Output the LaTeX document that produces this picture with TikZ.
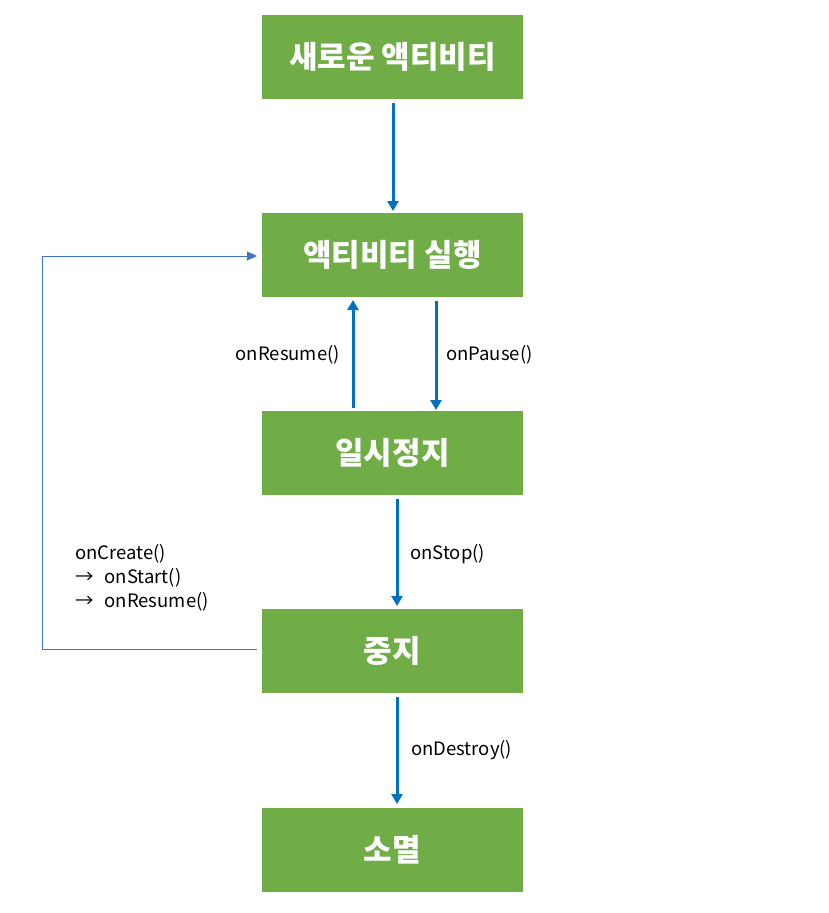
\documentclass[tikz,border=0pt]{standalone}
\usepackage{fontspec}
\setmainfont{Noto Sans CJK KR}
\usetikzlibrary{arrows.meta}
\definecolor{boxgreen}{HTML}{70AD47}
\definecolor{flowblue}{HTML}{0070C0}
\definecolor{loopblue}{HTML}{4472C4}
\tikzset{
	state/.style={fill=boxgreen, text=white, minimum width=261pt, minimum height=84pt, inner sep=0pt, font=\fontsize{31}{36}\selectfont\bfseries},
	flow/.style={flowblue, line width=3pt, -{Triangle[width=11pt,length=10pt]}},
	loop/.style={loopblue, line width=1pt, -{Triangle[width=9pt,length=10pt]}},
	call/.style={font=\fontsize{18.5}{24}\selectfont, inner sep=0pt}
}
\begin{document}
\begin{tikzpicture}[x=1pt,y=-1pt]
	\useasboundingbox (0,0) rectangle (828,913);
	\node [state] (new) at (392.5,57) {새로운 액티비티};
	\node [state] (run) at (392.5,255) {액티비티 실행};
	\node [state] (pause) at (392.5,452.5) {일시정지};
	\node [state] (stop) at (392.5,651) {중지};
	\node [state] (gone) at (392.5,850) {소멸};
	\coordinate (newout) at (393,103);
	\coordinate (runin) at (393,211);
	\coordinate (resumeout) at (353,408);
	\coordinate (resumein) at (353,300);
	\coordinate (pauseout) at (436,301);
	\coordinate (pausein) at (436,410);
	\coordinate (stopout) at (397,499);
	\coordinate (stopin) at (397,606);
	\coordinate (goneout) at (397,697);
	\coordinate (gonein) at (397,804);
	\coordinate (loopstart) at (257,649);
	\coordinate (loopend) at (257,256);
	\draw [flow] (newout) -- (runin);
	\draw [flow] (resumeout) -- (resumein);
	\draw [flow] (pauseout) -- (pausein);
	\draw [flow] (stopout) -- (stopin);
	\draw [flow] (goneout) -- (gonein);
	\draw [loop] (loopstart) -- (42,649) -- (42,256) -- (loopend);
	\node [call, anchor=east] (resumecall) at (340,355) {onResume()};
	\node [call, anchor=west] (pausecall) at (446,355) {onPause()};
	\node [call, anchor=west] (stopcall) at (410,554) {onStop()};
	\node [call, anchor=west] (destroycall) at (411,750) {onDestroy()};
	\node [call, anchor=west, align=left] (createcall) at (75,578) {onCreate()\\→\hspace{11pt}onStart()\\→\hspace{11pt}onResume()};
\end{tikzpicture}
\end{document}
